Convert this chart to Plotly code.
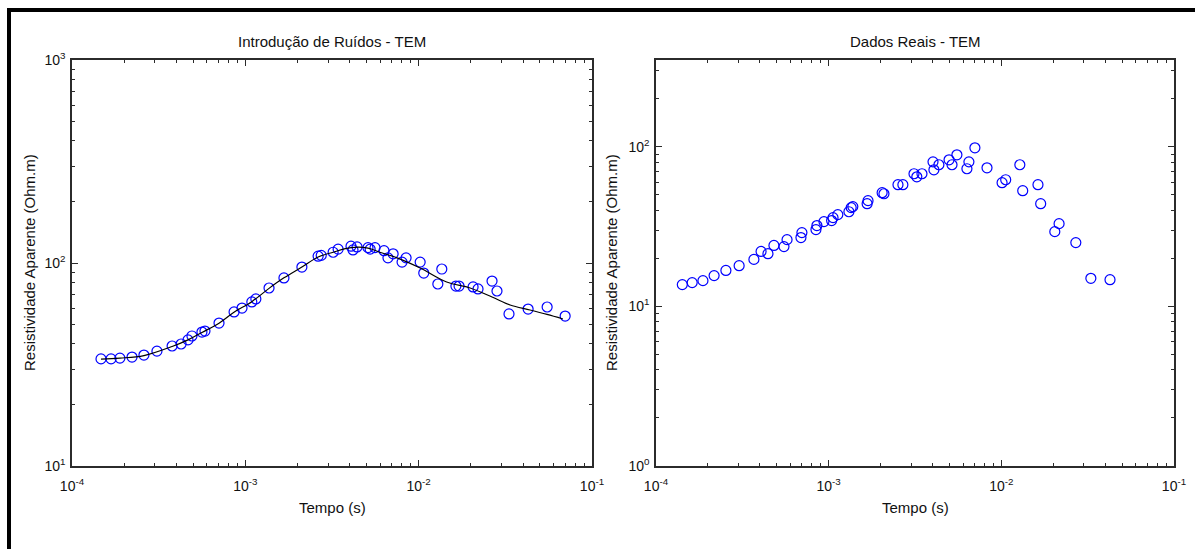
import numpy as np
import plotly.graph_objects as go

# --- Noisy synthetic TEM response (left panel) ---
ruido_t = [1.47e-4, 1.68e-4, 1.89e-4, 2.22e-4, 2.60e-4, 3.09e-4, 3.78e-4, 4.26e-4, 4.67e-4, 4.92e-4,
           5.62e-4, 5.85e-4, 7.05e-4, 8.61e-4, 9.57e-4, 1.09e-3, 1.15e-3, 1.37e-3, 1.67e-3, 2.12e-3,
           2.63e-3, 2.74e-3, 3.21e-3, 3.43e-3, 4.07e-3, 4.18e-3, 4.41e-3, 5.10e-3, 5.25e-3, 5.60e-3,
           6.31e-3, 6.65e-3, 7.12e-3, 8.02e-3, 8.46e-3, 1.02e-2, 1.07e-2, 1.29e-2, 1.36e-2, 1.64e-2,
           1.71e-2, 2.06e-2, 2.20e-2, 2.65e-2, 2.83e-2, 3.32e-2, 4.28e-2, 5.51e-2, 7.00e-2]
ruido_rho = [33.7, 33.7, 34.0, 34.4, 35.2, 36.8, 39.0, 39.9, 41.8, 43.7,
             45.7, 46.2, 50.6, 57.4, 60.0, 64.3, 66.5, 75.3, 84.4, 95.5,
             108, 109, 113, 117, 121, 116, 120, 119, 117, 119,
             115, 106, 111, 101, 106, 101, 89.2, 78.8, 93.4, 77.0,
             77.0, 76.2, 74.5, 81.5, 72.8, 56.1, 59.3, 60.7, 54.8]

# --- Model response (black curve) ---
modelo_t = [1.47e-4, 1.89e-4, 2.60e-4, 3.78e-4, 4.67e-4, 5.62e-4, 7.05e-4, 8.60e-4, 1.09e-3,
            1.37e-3, 1.67e-3, 2.12e-3, 2.63e-3, 3.21e-3, 4.07e-3, 5.10e-3, 5.96e-3, 7.50e-3,
            1.02e-2, 1.45e-2, 1.98e-2, 2.65e-2, 3.37e-2, 4.39e-2, 5.50e-2, 6.80e-2]
modelo_rho = [33.6, 34.0, 35.0, 38.8, 41.8, 45.5, 50.5, 57.2, 64.5,
              75.0, 84.5, 95.5, 107, 113, 119, 118.5, 113, 106,
              94.5, 80.6, 75.3, 68.0, 62.1, 58.7, 55.8, 53.0]

# --- Field data (right panel) ---
reais_t = [1.42e-4, 1.62e-4, 1.87e-4, 2.17e-4, 2.54e-4, 3.03e-4, 3.69e-4, 4.06e-4, 4.45e-4, 4.82e-4,
           5.51e-4, 5.74e-4, 6.91e-4, 7.00e-4, 8.44e-4, 8.55e-4, 9.39e-4, 1.04e-3, 1.06e-3, 1.13e-3,
           1.31e-3, 1.35e-3, 1.38e-3, 1.67e-3, 1.69e-3, 2.04e-3, 2.09e-3, 2.52e-3, 2.69e-3, 3.12e-3,
           3.24e-3, 3.47e-3, 4.02e-3, 4.07e-3, 4.35e-3, 4.98e-3, 5.18e-3, 5.53e-3, 6.32e-3, 6.49e-3,
           7.03e-3, 8.26e-3, 1.01e-2, 1.06e-2, 1.28e-2, 1.33e-2, 1.63e-2, 1.69e-2, 2.04e-2, 2.16e-2,
           2.70e-2, 3.30e-2, 4.26e-2]
reais_rho = [13.7, 14.1, 14.5, 15.6, 16.8, 18.0, 19.7, 22.1, 21.4, 24.1,
             23.7, 26.2, 27.0, 29.0, 30.3, 32.1, 34.0, 34.5, 36.0, 37.6,
             39.2, 41.6, 42.2, 44.0, 46.0, 51.6, 50.8, 57.9, 57.9, 67.8,
             64.9, 67.8, 80.5, 71.8, 77.2, 82.9, 77.2, 89.1, 72.9, 80.5,
             98.6, 73.9, 59.6, 62.2, 77.2, 53.1, 57.9, 44.0, 29.4, 33.0,
             25.1, 15.0, 14.7]

W, H = 1195, 549
FONT = "Liberation Sans, Arial, sans-serif"
AXC = "#2b2b2b"
BLUE = "#0000ff"


def px_x(p):
    return p / W


def px_y(p):
    return 1 - p / H


def decade_ticks(lo, hi):
    vals = [10.0 ** e for e in range(lo, hi + 1)]
    text = ["10<sup>%d</sup>" % e for e in range(lo, hi + 1)]
    minor = [m * 10.0 ** e for e in range(lo, hi) for m in range(2, 10)]
    return vals, text, minor


fig = go.Figure()

marker = dict(symbol="circle-open", size=10, color=BLUE, line=dict(width=1.2, color=BLUE))

fig.add_trace(go.Scatter(x=ruido_t, y=ruido_rho, mode="markers", marker=marker,
                         xaxis="x", yaxis="y", showlegend=False))
fig.add_trace(go.Scatter(x=modelo_t, y=modelo_rho, mode="lines",
                         line=dict(color="black", width=1.2, shape="spline"),
                         xaxis="x", yaxis="y", showlegend=False))
fig.add_trace(go.Scatter(x=reais_t, y=reais_rho, mode="markers", marker=marker,
                         xaxis="x2", yaxis="y2", showlegend=False))

xv, xt, xm = decade_ticks(-4, -1)
yv1, yt1, ym1 = decade_ticks(1, 3)
yv2, yt2, ym2 = decade_ticks(0, 3)


def axis_style(vals, text, minor, rng, domain, anchor, standoff):
    return dict(
        type="log", range=rng, domain=domain, anchor=anchor, automargin=False,
        tickmode="array", tickvals=vals, ticktext=text,
        ticks="inside", ticklen=6, tickwidth=1.2, tickcolor=AXC,
        minor=dict(tickmode="array", tickvals=minor, ticks="inside", ticklen=3.5,
                   tickwidth=1.2, tickcolor=AXC, showgrid=False),
        showline=True, linecolor=AXC, linewidth=1.5, mirror="allticks",
        showgrid=False, zeroline=False, ticklabelstandoff=standoff,
        tickfont=dict(family=FONT, size=14, color="#111"),
    )


left_dom = [px_x(72), px_x(592)]
right_dom = [px_x(656), px_x(1174)]
ydom = [px_y(466), px_y(60)]

fig.update_layout(
    width=W, height=H,
    margin=dict(l=0, r=0, t=0, b=0, pad=0, autoexpand=False),
    paper_bgcolor="white", plot_bgcolor="white",
    xaxis=axis_style(xv, xt, xm, [-4, -1], left_dom, "y", 6),
    yaxis=axis_style(yv1, yt1, ym1, [1, 3], ydom, "x", 2),
    xaxis2=axis_style(xv, xt, xm, [-4, -1], right_dom, "y2", 6),
    yaxis2=axis_style(yv2, yt2, ym2, [0, 2.544], ydom, "x2", 2),
)

ann_font = dict(family=FONT, size=15, color="#111")
annotations = [
    dict(text="Introdução de Ruídos - TEM", x=px_x(332), y=px_y(42)),
    dict(text="Dados Reais - TEM", x=px_x(915), y=px_y(42)),
    dict(text="Tempo (s)", x=px_x(332), y=px_y(507)),
    dict(text="Tempo (s)", x=px_x(915), y=px_y(507)),
    dict(text="Resistividade Aparente (Ohm.m)", x=px_x(30), y=px_y(263), textangle=-90),
    dict(text="Resistividade Aparente (Ohm.m)", x=px_x(612), y=px_y(263), textangle=-90),
]
for a in annotations:
    a.update(xref="paper", yref="paper", showarrow=False, font=ann_font,
             xanchor="center", yanchor="middle")
fig.update_layout(annotations=annotations)

# outer frame of the figure (top and left edges)
fig.add_shape(type="line", xref="paper", yref="paper", x0=px_x(7), x1=1, y0=px_y(10), y1=px_y(10),
              line=dict(color="black", width=4))
fig.add_shape(type="line", xref="paper", yref="paper", x0=px_x(9), x1=px_x(9), y0=0, y1=px_y(8),
              line=dict(color="black", width=4))

fig.write_html("out.html", post_script="document.body.style.margin='0';")
